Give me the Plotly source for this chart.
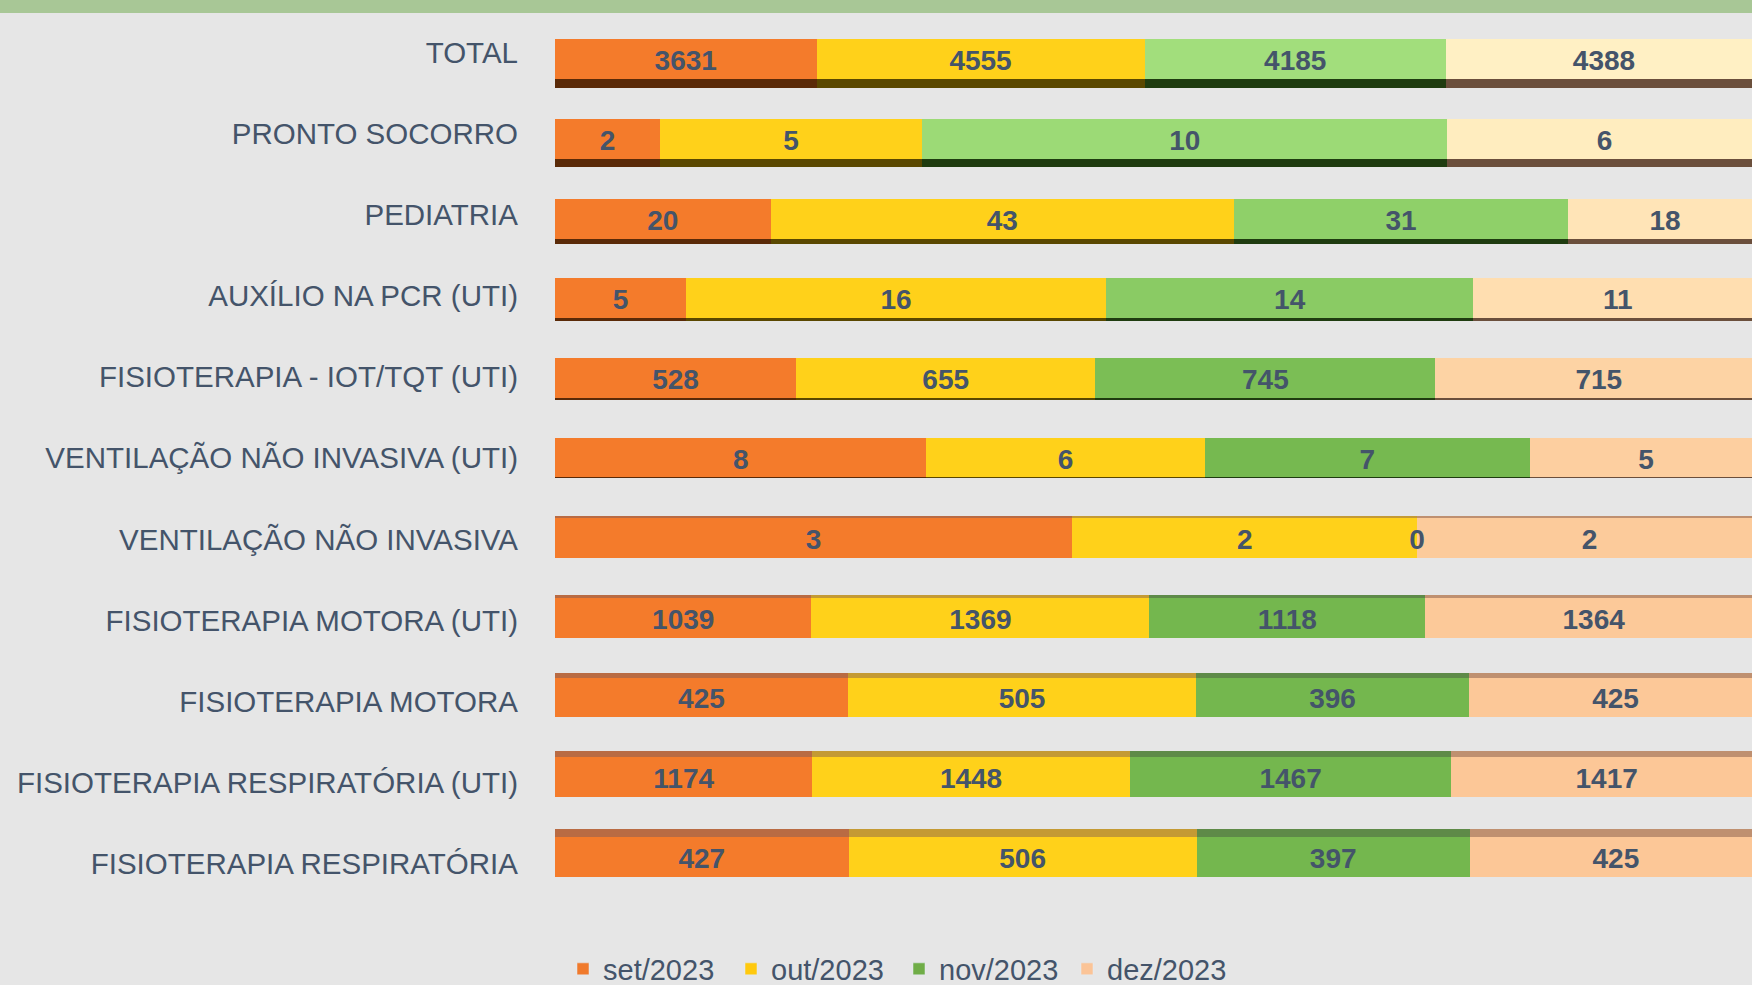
import plotly.graph_objects as go

categories = [
    "TOTAL",
    "PRONTO SOCORRO",
    "PEDIATRIA",
    "AUXÍLIO NA PCR (UTI)",
    "FISIOTERAPIA - IOT/TQT (UTI)",
    "VENTILAÇÃO NÃO INVASIVA (UTI)",
    "VENTILAÇÃO NÃO INVASIVA",
    "FISIOTERAPIA MOTORA (UTI)",
    "FISIOTERAPIA MOTORA",
    "FISIOTERAPIA RESPIRATÓRIA (UTI)",
    "FISIOTERAPIA RESPIRATÓRIA",
]
set_2023 = [3631, 2, 20, 5, 528, 8, 3, 1039, 425, 1174, 427]
out_2023 = [4555, 5, 43, 16, 655, 6, 2, 1369, 505, 1448, 506]
nov_2023 = [4185, 10, 31, 14, 745, 7, 0, 1118, 396, 1467, 397]
dez_2023 = [4388, 6, 18, 11, 715, 5, 2, 1364, 425, 1417, 425]
series_names = ["set/2023", "out/2023", "nov/2023", "dez/2023"]
series = [set_2023, out_2023, nov_2023, dez_2023]

W, H = 1752, 985
TXT = "#44546A"
FONT = "Liberation Sans, Arial"

# ---- styles ----
orange = ["#F47B2B"] * 11
yellow = ["#FFD11A"] * 11
green = ["#A2DE7C", "#9CDA76", "#8FD069", "#8ACB64", "#7BBE55",
         "#76B950", "#74B74E", "#74B74E", "#74B74E", "#74B74E", "#74B74E"]
peach = ["#FFF0C4", "#FFEDBF", "#FFE4B7", "#FFDEB0", "#FDD3A4",
         "#FDCFA0", "#FCCB9B", "#FCC999", "#FCC898", "#FCC797", "#FCC797"]
colors = [orange, yellow, green, peach]
legend_colors = ["#F07A2C", "#FFC90E", "#70AD47", "#FBC497"]
shade_below = ["#5A2A08", "#5A4800", "#1F3C10", "#6B4F3C"]
shade_above = ["#B96B43", "#C49A34", "#5E8A48", "#BF9070"]

BAR_W = 0.5
# 3D edge thickness per row in px: positive = below the face, negative = above
edge_px = [9, 8, 5.5, 3, 1, 0, -1.5, -3, -5, -6, -8]
# perspective: category labels are spread slightly wider than the bars
LABEL_PITCH = 1.0163
LABEL_SHIFT = -0.08
TEXT_SHIFT = 0.05

plot_left = 555
plot_top = 19
plot_bottom = 897
n = len(categories)
ROW_PX = (plot_bottom - plot_top) / n
x_end_full = 1762  # chart's original right edge lies just beyond the image
xr = (W - plot_left) / (x_end_full - plot_left)
y_range = [n - 0.5, -0.5]

fig = go.Figure()

# main faces
for name, vals, col in zip(series_names, series, colors):
    fig.add_trace(go.Bar(
        y=categories, x=vals, name=name, orientation="h",
        marker=dict(color=col, line=dict(width=0)),
        width=BAR_W, showlegend=False, hoverinfo="skip",
    ))

# 3D edges (on an overlaid axis pair so they stack independently)
offs, wids, signs = [], [], []
for e in edge_px:
    w = abs(e) / ROW_PX
    offs.append(BAR_W / 2 if e >= 0 else -BAR_W / 2 - w)
    wids.append(max(w, 1e-6))
    signs.append(e >= 0)
for name, vals, cb, ca in zip(series_names, series, shade_below, shade_above):
    fig.add_trace(go.Bar(
        y=categories, x=vals, orientation="h", xaxis="x2", yaxis="y2",
        offset=offs, width=wids,
        marker=dict(color=[cb if s else ca for s in signs], line=dict(width=0)),
        showlegend=False, hoverinfo="skip",
    ))

# legend entries
for name, lc in zip(series_names, legend_colors):
    fig.add_trace(go.Bar(
        y=[None], x=[None], name=name, orientation="h",
        marker=dict(color=lc), showlegend=True,
    ))

# value labels at the centre of each segment (fraction scale)
totals = [sum(s[i] for s in series) for i in range(n)]
lx, ly, lt = [], [], []
for i in range(n):
    cum = 0
    for s in series:
        lx.append((cum + s[i] / 2) / totals[i])
        ly.append(i + TEXT_SHIFT)
        lt.append(str(s[i]))
        cum += s[i]
fig.add_trace(go.Scatter(
    x=lx, y=ly, text=lt, mode="text", textposition="middle center",
    xaxis="x2", yaxis="y3",
    textfont=dict(family=FONT, size=28, color=TXT, weight="bold"),
    showlegend=False, hoverinfo="skip", cliponaxis=False,
))

yax_common = dict(range=y_range, autorange=False, fixedrange=True,
                  showgrid=False, zeroline=False, showline=False, ticks="")

fig.update_layout(
    width=W, height=H,
    barmode="stack", barnorm="fraction",
    paper_bgcolor="#E6E6E6", plot_bgcolor="rgba(0,0,0,0)",
    margin=dict(l=0, r=0, t=plot_top, b=H - plot_bottom, pad=0, autoexpand=False),
    font=dict(family=FONT, color=TXT),
    xaxis=dict(domain=[plot_left / W, 1], range=[0, xr], visible=False, fixedrange=True),
    xaxis2=dict(overlaying="x", range=[0, xr], visible=False, fixedrange=True, anchor="y2"),
    yaxis=dict(**yax_common, categoryorder="array", categoryarray=categories,
               showticklabels=False),
    yaxis2=dict(**yax_common, categoryorder="array", categoryarray=categories,
                overlaying="y", visible=False, anchor="x2"),
    yaxis3=dict(**yax_common, type="linear", overlaying="y", anchor="x2", side="left",
                tickmode="array",
                tickvals=[i * LABEL_PITCH + LABEL_SHIFT for i in range(n)],
                ticktext=categories,
                tickfont=dict(size=29.5, color=TXT, family=FONT),
                ticklabelstandoff=36),
    legend=dict(orientation="h", traceorder="normal",
                x=563 / W, xanchor="left", y=-(969 - plot_bottom) / (plot_bottom - plot_top),
                yanchor="middle", font=dict(size=29, color=TXT, family=FONT),
                bgcolor="rgba(0,0,0,0)", itemwidth=30, tracegroupgap=0,
                entrywidth=123, entrywidthmode="pixels", itemclick=False),
    shapes=[
        dict(type="rect", xref="paper", yref="paper", x0=-plot_left / (W - plot_left), x1=1,
             ysizemode="pixel", yanchor=1, y0=plot_top - 13, y1=plot_top + 2,
             fillcolor="#A8C796", line=dict(width=0), layer="above"),
        dict(type="line", xref="paper", yref="paper",
             x0=(542 - plot_left) / (W - plot_left), x1=(542 - plot_left) / (W - plot_left),
             y0=0.05, y1=1.0, line=dict(color="#CBD4DE", width=2), layer="below"),
    ],
)

fig.write_html("out.html", config={"displayModeBar": False},
               post_script="document.body.style.margin='0';document.body.style.overflow='hidden';")
